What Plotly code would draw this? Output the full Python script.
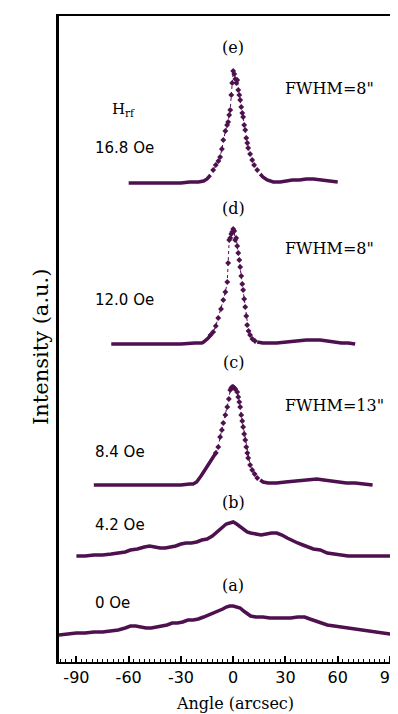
import plotly.graph_objects as go

# ---------------- data ----------------
# angle (arcsec) and intensity (a.u., relative to each curve's own baseline)
a_x = [-100, -95, -90, -85, -80, -75, -70, -66, -62, -59, -56, -53, -50, -47, -44, -41, -38, -35, -32, -29,
       -26, -23, -20, -17, -14, -11, -8, -6, -4, -2, 0, 2, 4, 6, 8, 10, 13, 17, 21, 25, 29, 33, 37, 41,
       44, 47, 50, 54, 58, 62, 66, 70, 74, 78, 82, 86, 90, 94, 100]
a_y = [0, 1, 2, 2, 3, 3, 4, 5, 7, 9, 9, 8, 7, 7, 8, 9, 10, 12, 12, 13,
       15, 15, 16, 18, 20, 22, 24, 26, 28, 29, 29, 28, 27, 24, 21, 19, 18, 18, 17, 17, 17, 17, 18, 18,
       16, 14, 12, 10, 9, 8, 7, 6, 5, 4, 3, 2, 1, 1, 0]

b_x = [-90, -85, -80, -75, -70, -66, -62, -59, -55, -51, -48, -45, -42, -39, -36, -33, -30, -27, -24, -21,
       -18, -15, -12, -9, -6, -4, -2, 0, 2, 4, 6, 8, 10, 13, 16, 19, 22, 25, 28, 31, 34, 37, 40, 43,
       46, 50, 54, 58, 62, 66, 70, 75, 80, 85, 90]
b_y = [0, 0, 1, 1, 2, 3, 4, 6, 7, 9, 10, 9, 8, 8, 9, 10, 12, 13, 13, 14,
       16, 17, 20, 24, 29, 32, 33, 34, 32, 29, 27, 24, 23, 22, 21, 22, 23, 23, 21, 18, 15, 13, 11, 9,
       7, 6, 3, 2, 1, 0, 0, 0, 0, 0, 0]

c_x = [-80, -70, -60, -50, -40, -30, -25, -23, -21, -20, -18.5, -17, -15.5, -14.3, -13, -11.5, -10, -8.6,
       -7.5, -6.5, -5.7, -4.5, -3.4, -2.5, -1.7, -1.1, -0.6, 0, 0.6, 1.2, 2.3, 2.9, 3.5, 4, 4.6, 5.2,
       5.7, 6.3, 6.9, 7.5, 8.1, 8.6, 9.7, 10.9, 12.3, 13.8, 15.5, 17.2, 20, 25, 30, 35, 40, 44, 48,
       52, 56, 60, 65, 70, 75, 80]
c_y = [0, 0, 0, 0, 0, 0, 1, 1, 3, 5, 9, 13, 17, 20, 23, 27, 32, 38,
       48, 55, 62, 70, 78, 86, 95, 97, 98, 98, 97, 96, 93, 88, 83, 78, 70, 64,
       58, 51, 45, 38, 32, 27, 20, 15, 11, 7, 5, 3, 2, 2, 3, 4, 5, 6, 6,
       5, 4, 3, 2, 2, 1, 0]

d_x = [-70, -60, -50, -40, -30, -22, -18, -17, -15.5, -14.3, -13, -11.5, -10, -8.6, -7, -5.7, -4.5, -3.4,
       -2.9, -2.3, -1.7, -1.1, -0.6, 0, 0.6, 1.1, 1.7, 2.3, 2.9, 3.5, 4, 4.6, 5.2, 5.7, 6.3, 6.9, 7.5,
       8, 8.8, 9.7, 11, 12.5, 13.8, 17, 25, 30, 34, 38, 42, 46, 50, 54, 58, 62, 66, 70]
d_y = [0, 0, 0, 0, 0, 1, 1, 2, 4, 6, 9, 12, 18, 26, 35, 44, 52, 62,
       81, 104, 106, 110, 112, 115, 113, 104, 106, 98, 91, 84, 77, 68, 60, 54, 45, 37, 28,
       19, 13, 9, 5, 3, 2, 1, 1, 2, 3, 4, 4, 4, 4, 3, 2, 1, 1, 0]

e_x = [-60, -55, -50, -45, -40, -35, -30, -25, -20, -17, -15, -13, -11.5, -10, -8.5, -7.5, -6.5, -5.7,
       -4.5, -3.5, -2.9, -2.3, -1.7, -1.1, -0.6, 0, 0.6, 1.2, 1.8, 2.3, 2.9, 3.5, 4, 4.6, 5.2, 5.7,
       6.3, 6.9, 7.5, 8.1, 8.6, 9.7, 10.9, 12, 13.8, 15.5, 17, 19.5, 23, 27, 31, 34, 38, 42, 46, 50,
       54, 57, 60]
e_y = [0, 0, 0, 0, 0, 0, 0, 1, 1, 2, 4, 8, 13, 18, 22, 26, 34, 43,
       52, 58, 61, 68, 73, 88, 100, 112, 109, 104, 100, 103, 93, 88, 83, 76, 70, 66,
       58, 53, 45, 40, 35, 29, 23, 18, 13, 9, 6, 3, 1, 1, 2, 3, 3, 4, 4, 3,
       2, 1, 1]

curve_names = ["(a)", "(b)", "(c)", "(d)", "(e)"]
field_labels = ["0 Oe", "4.2 Oe", "8.4 Oe", "12.0 Oe", "16.8 Oe"]
fwhm_labels = [None, None, 'FWHM=13"', 'FWHM=8"', 'FWHM=8"']
offsets = [27, 106, 177, 318, 479]          # vertical shift of each curve (a.u.)
peak_windows = [None, None, (-10, 14), (-13, 13), (-12, 15)]  # part drawn with markers

tick_vals = [-90, -60, -30, 0, 30, 60, 90]
tick_labels = ["-90", "-60", "-30", "0", "30", "60", "90"]

# ---------------- figure ----------------
COLOR = "#4e104e"
xs = [a_x, b_x, c_x, d_x, e_x]
ys = [a_y, b_y, c_y, d_y, e_y]

fig = go.Figure()
for xv, yv, off, win in zip(xs, ys, offsets, peak_windows):
    yy = [v + off for v in yv]
    if win is None:
        fig.add_trace(go.Scatter(x=xv, y=yy, mode="lines",
                                 line=dict(color=COLOR, width=3.5), showlegend=False))
        continue
    lo, hi = win
    left = [(x, y) for x, y in zip(xv, yy) if x <= lo]
    peak = [(x, y) for x, y in zip(xv, yy) if lo <= x <= hi]
    right = [(x, y) for x, y in zip(xv, yy) if x >= hi]
    for seg in (left, right):
        fig.add_trace(go.Scatter(x=[p[0] for p in seg], y=[p[1] for p in seg], mode="lines",
                                 line=dict(color=COLOR, width=3.5), showlegend=False))
    fig.add_trace(go.Scatter(x=[p[0] for p in peak], y=[p[1] for p in peak], mode="lines+markers",
                             line=dict(color=COLOR, width=1, dash="dot"),
                             marker=dict(symbol="diamond", size=4.5, color=COLOR),
                             showlegend=False))

SERIF = "DejaVu Serif"
SANS = "DejaVu Sans"

# curve letters above each curve
name_y = [77, 160, 300, 454, 615]
for nm, ny in zip(curve_names, name_y):
    fig.add_annotation(x=0, y=ny, text=nm, showarrow=False,
                       font=dict(family=SERIF, size=16, color="black"))

# field labels on the left
field_y = [59, 137, 210, 362, 514]
for lb, fy in zip(field_labels, field_y):
    fig.add_annotation(x=-80.5, y=fy, text=lb, showarrow=False, xanchor="left",
                       font=dict(family=SANS, size=15, color="black"))

fwhm_y = [None, None, 257, 414, 574]
for lb, fy in zip(fwhm_labels, fwhm_y):
    if lb:
        fig.add_annotation(x=28.5, y=fy, text=lb, showarrow=False, xanchor="left",
                           font=dict(family=SERIF, size=16, color="black"))

fig.add_annotation(x=-71, y=553, text="H<sub>rf</sub>", showarrow=False, xanchor="left",
                   font=dict(family=SERIF, size=15, color="black"))

# axis titles
fig.add_annotation(xref="paper", yref="paper", x=0.519, y=-0.0635, yanchor="middle",
                   text="Angle (arcsec)", showarrow=False,
                   font=dict(family=SERIF, size=16, color="black"))
fig.add_annotation(xref="paper", yref="paper", x=-0.0944, y=0.4876, textangle=-90,
                   text="Intensity (a.u.)", showarrow=False,
                   font=dict(family=SERIF, size=21, color="black"))

# the page body adds an 8 px margin, so the figure is laid out 8 px smaller
fig.update_layout(
    width=390, height=706,
    margin=dict(l=51, r=0, t=8, b=52),
    paper_bgcolor="white", plot_bgcolor="white",
    showlegend=False,
    xaxis=dict(
        range=[-100, 94.6], automargin=False,
        tickmode="array", tickvals=tick_vals, ticktext=tick_labels,
        ticklabeloverflow="allow",
        ticks="inside", ticklen=6, tickwidth=1.5, tickcolor="black",
        minor=dict(tickmode="linear", tick0=0, dtick=3, ticks="inside", ticklen=3,
                   tickwidth=1, tickcolor="black"),
        showline=True, linecolor="black", linewidth=2, mirror=True,
        showgrid=False, zeroline=False,
        tickfont=dict(family=SANS, size=16, color="black"),
    ),
    yaxis=dict(
        range=[0, 646], automargin=False,
        showticklabels=False, ticks="",
        showline=True, linecolor="black", linewidth=2.5,
        showgrid=False, zeroline=False,
    ),
)

fig.write_html("out.html")
